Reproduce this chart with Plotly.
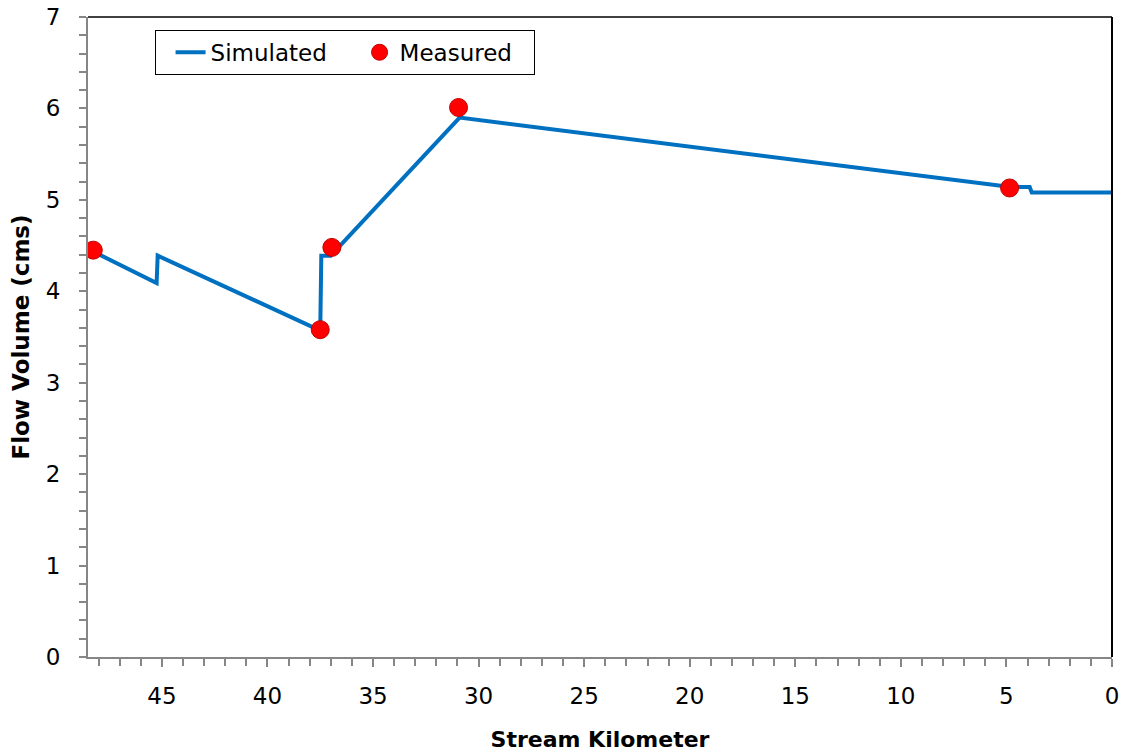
import plotly.graph_objects as go

# Simulated flow profile along the stream (km from mouth, flow in cms)
sim_km = [48.3, 45.25, 45.2, 37.5, 37.45, 37.0, 30.9, 4.8, 3.9, 3.8, 0.0]
sim_flow = [4.44, 4.09, 4.39, 3.57, 4.39, 4.39, 5.90, 5.14, 5.14, 5.08, 5.08]

# Measured flows at survey sites
meas_km = [48.25, 37.5, 36.95, 30.95, 4.85]
meas_flow = [4.45, 3.58, 4.48, 6.01, 5.13]

x_range = [48.5, 0]
y_range = [0, 7]

FONT = "DejaVu Sans"
AXIS_GRAY = "#868686"

fig = go.Figure()

fig.add_trace(go.Scatter(
    x=sim_km, y=sim_flow, mode="lines", name="Simulated",
    line=dict(color="#0070C0", width=4),
))
fig.add_trace(go.Scatter(
    x=meas_km, y=meas_flow, mode="markers", name="Measured",
    marker=dict(color="#FF0000", size=18, line=dict(color="#C00000", width=1)),
))

fig.update_layout(
    width=1121, height=754,
    margin=dict(l=88, r=9, t=17, b=97),
    paper_bgcolor="white", plot_bgcolor="white",
    font=dict(family=FONT, size=23, color="black"),
    showlegend=True,
    legend=dict(
        orientation="h", x=0.065, y=0.98, xanchor="left", yanchor="top",
        bordercolor="black", borderwidth=1, bgcolor="white",
        font=dict(family=FONT, size=23), itemwidth=30,
        entrywidth=129, indentation=15, tracegroupgap=0,
    ),
    xaxis=dict(
        range=x_range, showgrid=False, zeroline=False, automargin=False,
        showline=True, linecolor=AXIS_GRAY, linewidth=2,
        ticks="outside", ticklen=8, tickcolor=AXIS_GRAY, tickwidth=2,
        tick0=0, dtick=5, ticklabelstandoff=9,
        minor=dict(ticks="outside", ticklen=7, tickcolor=AXIS_GRAY, dtick=1, tick0=0),
        title=dict(text="<b>Stream Kilometer</b>", standoff=24, font=dict(size=22)),
        tickfont=dict(size=23),
    ),
    yaxis=dict(
        range=y_range, showgrid=False, zeroline=False, automargin=False,
        showline=True, linecolor=AXIS_GRAY, linewidth=2,
        ticks="outside", ticklen=7, tickcolor=AXIS_GRAY, tickwidth=2,
        tick0=0, dtick=1, ticklabelstandoff=14,
        minor=dict(ticks="outside", ticklen=7, tickcolor=AXIS_GRAY, dtick=0.2, tick0=0),
        title=dict(text="<b>Flow Volume (cms)</b>", standoff=10, font=dict(size=23)),
        tickfont=dict(size=23),
    ),
    # inner halves of the crossing major ticks
    xaxis2=dict(
        overlaying="x", anchor="y", side="bottom", range=x_range, automargin=False,
        showgrid=False, zeroline=False, showline=False, showticklabels=False,
        ticks="inside", ticklen=8, tickcolor=AXIS_GRAY, tickwidth=2, tick0=0, dtick=5,
    ),
    yaxis2=dict(
        overlaying="y", anchor="x", side="left", range=y_range, automargin=False,
        showgrid=False, zeroline=False, showline=False, showticklabels=False,
        ticks="inside", ticklen=8, tickcolor=AXIS_GRAY, tickwidth=2, tick0=0, dtick=1,
    ),
)

# frame on top and right
fig.add_shape(type="line", xref="paper", yref="paper", x0=0, x1=1, y0=1, y1=1,
              line=dict(color="#404040", width=2))
fig.add_shape(type="line", xref="paper", yref="paper", x0=1, x1=1, y0=0, y1=1,
              line=dict(color="black", width=2))

fig.write_html("out.html")
